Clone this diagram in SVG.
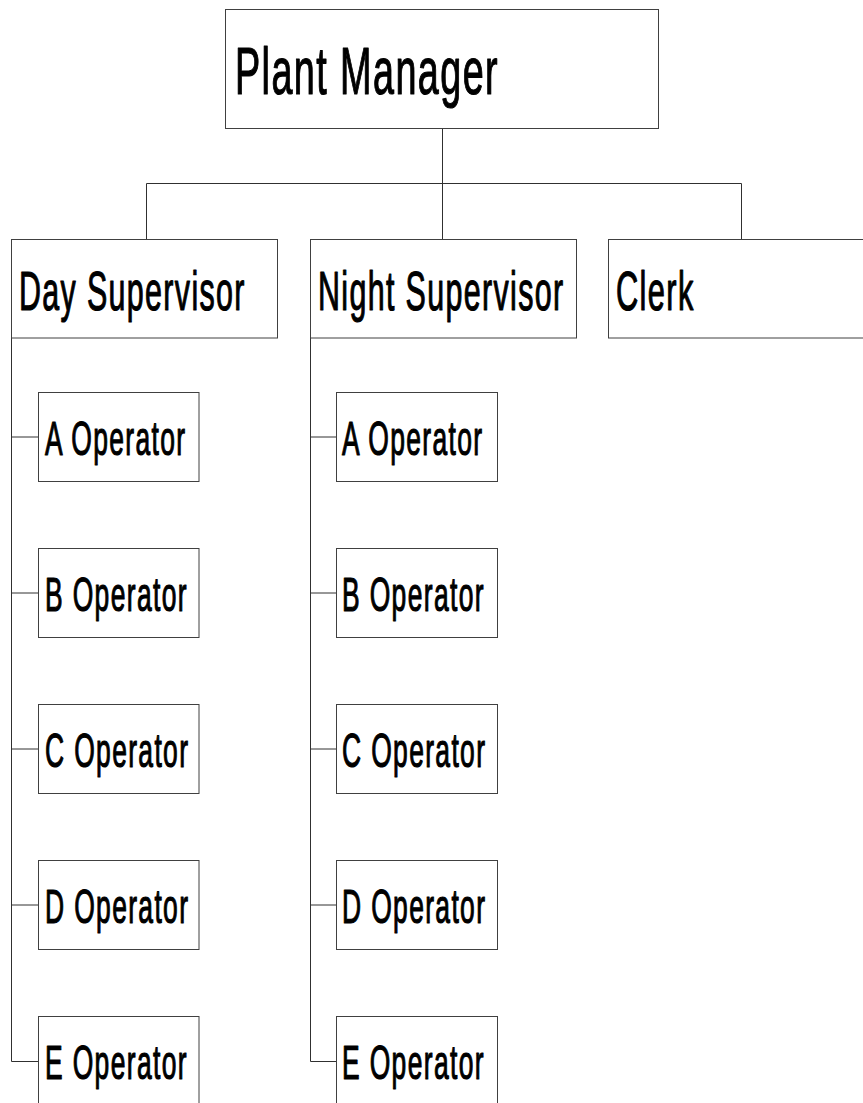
<svg xmlns="http://www.w3.org/2000/svg" width="863" height="1103" viewBox="0 0 863 1103">
<style>
.box{fill:#fff;stroke:#404040;stroke-width:1}
.conn{fill:none;stroke:#303030;stroke-width:1}
text{font-family:"Liberation Sans",Arial,sans-serif;fill:#000;stroke:#000;stroke-width:1.2;stroke-linejoin:round;letter-spacing:2.5px}
.pm{font-size:66px}
.sup{font-size:56px}
.op{font-size:49px}
</style>
<rect width="863" height="1103" fill="#fff"/>
<g id="connectors">
<path class="conn" d="M442.5 128.5V183.5M146.5 183.5H741.5M146.5 183.5V239.5M442.5 183.5V239.5M741.5 183.5V239.5"/>
<path class="conn" d="M11.5 338V1061.5M11.5 437H38.5M11.5 593H38.5M11.5 749H38.5M11.5 905H38.5M11.5 1061.5H38.5"/>
<path class="conn" d="M310.5 338V1061.5M310.5 437H336.5M310.5 593H336.5M310.5 749H336.5M310.5 905H336.5M310.5 1061.5H336.5"/>
</g>
<g id="plant-manager"><rect class="box" x="225.5" y="9.5" width="433" height="119"/><text class="pm" transform="translate(235 94) scale(0.572 1)">Plant Manager</text></g>
<g id="day-supervisor"><rect class="box" x="11.5" y="239.5" width="266" height="98.5"/><text class="sup" transform="translate(19 310) scale(0.543 1)">Day Supervisor</text></g>
<g id="night-supervisor"><rect class="box" x="310.5" y="239.5" width="266" height="98.5"/><text class="sup" transform="translate(318 310) scale(0.543 1)">Night Supervisor</text></g>
<g id="clerk"><rect class="box" x="608.5" y="239.5" width="266" height="98.5"/><text class="sup" transform="translate(616 310) scale(0.55 1)">Clerk</text></g>
<g id="day-a"><rect class="box" x="38.5" y="392.5" width="160.5" height="89"/><text class="op" transform="translate(45 455) scale(0.54 1)">A Operator</text></g>
<g id="day-b"><rect class="box" x="38.5" y="548.5" width="160.5" height="89"/><text class="op" transform="translate(45 611) scale(0.54 1)">B Operator</text></g>
<g id="day-c"><rect class="box" x="38.5" y="704.5" width="160.5" height="89"/><text class="op" transform="translate(45 767) scale(0.54 1)">C Operator</text></g>
<g id="day-d"><rect class="box" x="38.5" y="860.5" width="160.5" height="89"/><text class="op" transform="translate(45 923) scale(0.54 1)">D Operator</text></g>
<g id="day-e"><rect class="box" x="38.5" y="1016.5" width="160.5" height="89"/><text class="op" transform="translate(45 1079) scale(0.54 1)">E Operator</text></g>
<g id="night-a"><rect class="box" x="336.5" y="392.5" width="161" height="89"/><text class="op" transform="translate(342 455) scale(0.54 1)">A Operator</text></g>
<g id="night-b"><rect class="box" x="336.5" y="548.5" width="161" height="89"/><text class="op" transform="translate(342 611) scale(0.54 1)">B Operator</text></g>
<g id="night-c"><rect class="box" x="336.5" y="704.5" width="161" height="89"/><text class="op" transform="translate(342 767) scale(0.54 1)">C Operator</text></g>
<g id="night-d"><rect class="box" x="336.5" y="860.5" width="161" height="89"/><text class="op" transform="translate(342 923) scale(0.54 1)">D Operator</text></g>
<g id="night-e"><rect class="box" x="336.5" y="1016.5" width="161" height="89"/><text class="op" transform="translate(342 1079) scale(0.54 1)">E Operator</text></g>
</svg>
